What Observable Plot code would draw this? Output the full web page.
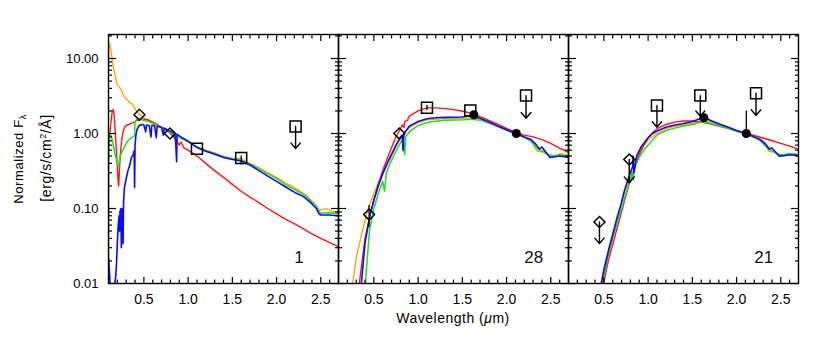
<!DOCTYPE html>
<html><head><meta charset="utf-8">
<script src="https://cdn.jsdelivr.net/npm/d3@7"></script>
<script src="https://cdn.jsdelivr.net/npm/@observablehq/plot@0.6"></script>
<style>
body{margin:0;background:#fff;}
#chart{position:relative;width:830px;height:353px;font-family:"Liberation Sans",Arial,sans-serif;}
#chart svg{position:absolute;top:0;overflow:visible;}
</style></head><body><div id="chart"></div>
<script>
// ---- tick values ----
const panelIds = ["1", "28", "21"];
const xMajorTicks = [0.5, 1.0, 1.5, 2.0, 2.5];
const xMinorTicks = [0.2,0.3,0.4,0.6,0.7,0.8,0.9,1.1,1.2,1.3,1.4,1.6,1.7,1.8,1.9,2.1,2.2,2.3,2.4,2.6];
const yMajorTicks = [0.01, 0.1, 1, 10];
const yMinorTicks = [0.02,0.03,0.04,0.05,0.06,0.07,0.08,0.09,0.2,0.3,0.4,0.5,0.6,0.7,0.8,0.9,2,3,4,5,6,7,8,9,20];
const xDomain = [0.1, 2.7];
const yDomain = [0.01, 20.9];

// ---- panel 1 spectra [wavelength (um), normalized flux] ----
const p1Orange = [[0.1,8.5],[0.105,14],[0.113,16],[0.125,13.5],[0.14,10],[0.155,7.5],[0.17,6.5],[0.185,5.2],[0.2,4.4],[0.215,4.3],[0.226,4.1],[0.24,3.9],[0.255,3.6],[0.27,3.2],[0.3,2.9],[0.34,2.6],[0.37,2.45],[0.4,2.15],[0.42,1.95],[0.45,1.8],[0.5,1.62],[0.6,1.4],[0.7,1.19],[0.8,1.03],[0.9,0.89],[1.0,0.77],[1.1,0.67],[1.2,0.6],[1.3,0.55],[1.4,0.5],[1.5,0.47],[1.6,0.46],[1.7,0.4],[1.8,0.35],[1.9,0.3],[2.0,0.26],[2.1,0.22],[2.2,0.19],[2.3,0.16],[2.35,0.145],[2.4,0.125],[2.45,0.108],[2.48,0.095],[2.53,0.098],[2.57,0.099],[2.62,0.092],[2.7,0.088]];
const p1Red = [[0.1,0.7],[0.11,0.85],[0.125,1.3],[0.14,1.9],[0.155,2.1],[0.165,1.7],[0.18,0.9],[0.195,0.45],[0.21,0.22],[0.215,0.2],[0.225,0.35],[0.24,0.65],[0.26,1.0],[0.28,1.2],[0.3,1.28],[0.34,1.33],[0.38,1.4],[0.42,1.5],[0.5,1.55],[0.55,1.52],[0.6,1.42],[0.7,1.22],[0.74,1.16],[0.8,1.0],[0.85,0.86],[0.87,0.8],[0.9,0.7],[0.92,0.77],[0.95,0.65],[1.0,0.6],[1.1,0.5],[1.2,0.4],[1.3,0.32],[1.4,0.26],[1.5,0.21],[1.6,0.17],[1.7,0.142],[1.8,0.12],[1.9,0.1],[2.0,0.085],[2.1,0.072],[2.2,0.063],[2.3,0.054],[2.4,0.046],[2.5,0.04],[2.6,0.035],[2.7,0.031]];
const p1Green = [[0.1,0.012],[0.102,0.3],[0.105,0.85],[0.12,0.92],[0.13,0.94],[0.15,0.75],[0.17,0.55],[0.19,0.45],[0.205,0.38],[0.215,0.36],[0.23,0.5],[0.26,0.6],[0.29,0.7],[0.32,0.8],[0.35,0.86],[0.38,0.9],[0.395,0.95],[0.4,1.45],[0.42,1.55],[0.45,1.6],[0.5,1.5],[0.55,1.45],[0.6,1.36],[0.7,1.2],[0.8,1.02],[0.9,0.89],[1.0,0.78],[1.1,0.66],[1.2,0.59],[1.3,0.54],[1.4,0.49],[1.5,0.46],[1.6,0.44],[1.7,0.39],[1.8,0.34],[1.9,0.29],[2.0,0.25],[2.1,0.21],[2.2,0.18],[2.3,0.155],[2.35,0.14],[2.4,0.122],[2.45,0.106],[2.48,0.092],[2.5,0.087],[2.6,0.088],[2.7,0.085]];
const p1Blue = [[0.1,0.022],[0.11,0.015],[0.12,0.009],[0.14,0.006],[0.16,0.008],[0.18,0.012],[0.19,0.018],[0.2,0.035],[0.21,0.06],[0.22,0.08],[0.225,0.05],[0.23,0.09],[0.24,0.1],[0.245,0.03],[0.25,0.09],[0.26,0.1],[0.265,0.034],[0.27,0.12],[0.28,0.19],[0.3,0.25],[0.32,0.32],[0.34,0.38],[0.36,0.48],[0.38,0.52],[0.39,0.59],[0.395,0.19],[0.4,0.7],[0.41,0.95],[0.42,1.1],[0.44,1.25],[0.47,1.32],[0.5,1.3],[0.52,1.05],[0.53,1.3],[0.56,1.28],[0.58,0.9],[0.59,1.28],[0.62,1.28],[0.64,0.88],[0.65,1.25],[0.7,1.2],[0.72,0.95],[0.73,1.18],[0.78,1.1],[0.81,1.06],[0.85,1.0],[0.86,0.75],[0.87,0.42],[0.875,0.98],[0.9,0.93],[1.0,0.79],[1.1,0.65],[1.2,0.58],[1.3,0.53],[1.4,0.48],[1.5,0.45],[1.6,0.43],[1.7,0.38],[1.8,0.32],[1.9,0.27],[2.0,0.23],[2.1,0.195],[2.2,0.165],[2.3,0.145],[2.35,0.13],[2.4,0.115],[2.45,0.1],[2.48,0.085],[2.5,0.082],[2.6,0.082],[2.7,0.08]];

// ---- panel 28 spectra ----
const p2Orange = [[0.255,0.009],[0.3,0.022],[0.37,0.05],[0.415,0.083],[0.45,0.11],[0.5,0.16],[0.55,0.22],[0.6,0.3],[0.65,0.38],[0.7,0.5],[0.75,0.66],[0.8,0.85],[0.85,1.02],[0.9,1.2],[1.0,1.4],[1.1,1.52],[1.3,1.58],[1.52,1.6],[1.6,1.63],[1.71,1.56],[1.8,1.43],[1.89,1.28],[2.0,1.13],[2.11,1.0],[2.2,0.9],[2.27,0.81],[2.3,0.72],[2.33,0.62],[2.35,0.58],[2.4,0.57],[2.46,0.53],[2.5,0.48],[2.55,0.5],[2.61,0.54],[2.7,0.51]];
const p2Red = [[0.33,0.009],[0.4,0.04],[0.45,0.075],[0.5,0.13],[0.55,0.21],[0.6,0.32],[0.65,0.46],[0.7,0.65],[0.75,0.9],[0.8,1.15],[0.82,1.3],[0.84,1.2],[0.85,1.45],[0.88,1.5],[0.9,1.7],[1.0,2.0],[1.1,2.2],[1.2,2.2],[1.3,2.15],[1.4,2.08],[1.5,1.98],[1.6,1.86],[1.7,1.68],[1.8,1.5],[1.9,1.33],[2.0,1.17],[2.11,1.02],[2.2,0.95],[2.3,0.9],[2.4,0.83],[2.5,0.74],[2.6,0.64],[2.7,0.56]];
const p2Green = [[0.4,0.009],[0.45,0.05],[0.5,0.1],[0.55,0.16],[0.6,0.23],[0.62,0.17],[0.64,0.29],[0.65,0.32],[0.7,0.44],[0.75,0.58],[0.8,0.75],[0.83,0.85],[0.85,0.52],[0.86,0.9],[0.9,1.05],[1.0,1.28],[1.13,1.42],[1.3,1.5],[1.52,1.52],[1.6,1.55],[1.71,1.5],[1.8,1.38],[1.9,1.24],[2.0,1.1],[2.11,0.98],[2.2,0.88],[2.27,0.8],[2.33,0.66],[2.37,0.6],[2.42,0.58],[2.48,0.52],[2.53,0.5],[2.6,0.52],[2.7,0.5]];
const p2Blue = [[0.355,0.009],[0.4,0.035],[0.46,0.085],[0.5,0.13],[0.55,0.2],[0.6,0.29],[0.65,0.4],[0.7,0.53],[0.75,0.7],[0.8,0.9],[0.82,0.95],[0.83,0.59],[0.84,1.0],[0.9,1.25],[1.0,1.45],[1.1,1.57],[1.2,1.62],[1.3,1.64],[1.5,1.66],[1.6,1.75],[1.7,1.6],[1.8,1.42],[1.9,1.26],[2.0,1.12],[2.11,1.0],[2.2,0.9],[2.27,0.84],[2.33,0.72],[2.37,0.62],[2.4,0.66],[2.45,0.55],[2.49,0.48],[2.55,0.49],[2.6,0.5],[2.7,0.48]];

// ---- panel 21 spectra ----
const p3Orange = [[0.455,0.009],[0.5,0.016],[0.55,0.027],[0.6,0.045],[0.65,0.075],[0.7,0.12],[0.75,0.19],[0.8,0.3],[0.85,0.42],[0.9,0.56],[1.0,0.82],[1.1,1.0],[1.2,1.15],[1.3,1.25],[1.4,1.3],[1.5,1.37],[1.6,1.48],[1.7,1.45],[1.8,1.32],[1.9,1.2],[2.0,1.09],[2.11,0.99],[2.2,0.89],[2.27,0.8],[2.33,0.66],[2.37,0.58],[2.42,0.56],[2.48,0.52],[2.53,0.5],[2.6,0.54],[2.7,0.53]];
const p3Red = [[0.49,0.009],[0.55,0.02],[0.6,0.033],[0.65,0.055],[0.7,0.09],[0.75,0.15],[0.8,0.24],[0.85,0.36],[0.9,0.52],[0.95,0.7],[1.0,0.88],[1.05,1.02],[1.1,1.15],[1.2,1.32],[1.3,1.42],[1.4,1.47],[1.5,1.47],[1.6,1.42],[1.7,1.35],[1.8,1.26],[1.9,1.17],[2.0,1.08],[2.11,1.0],[2.2,0.94],[2.3,0.87],[2.4,0.8],[2.5,0.74],[2.6,0.68],[2.7,0.62]];
const p3Green = [[0.48,0.009],[0.55,0.024],[0.6,0.04],[0.65,0.065],[0.7,0.1],[0.75,0.16],[0.8,0.25],[0.82,0.3],[0.83,0.24],[0.85,0.36],[0.9,0.48],[0.95,0.6],[1.05,0.82],[1.1,0.95],[1.21,1.1],[1.3,1.18],[1.39,1.25],[1.5,1.32],[1.6,1.42],[1.7,1.38],[1.8,1.28],[1.9,1.17],[2.0,1.07],[2.11,0.98],[2.2,0.88],[2.27,0.8],[2.33,0.68],[2.37,0.6],[2.42,0.58],[2.48,0.52],[2.55,0.53],[2.6,0.54],[2.7,0.52]];
const p3Blue = [[0.465,0.009],[0.5,0.015],[0.56,0.03],[0.6,0.045],[0.64,0.069],[0.69,0.11],[0.73,0.17],[0.78,0.26],[0.825,0.36],[0.83,0.5],[0.84,0.3],[0.87,0.5],[0.92,0.66],[1.0,0.88],[1.05,1.0],[1.1,1.08],[1.2,1.21],[1.3,1.3],[1.39,1.35],[1.5,1.45],[1.6,1.6],[1.65,1.62],[1.7,1.5],[1.8,1.35],[1.9,1.22],[2.0,1.1],[2.11,1.0],[2.2,0.9],[2.27,0.83],[2.33,0.72],[2.37,0.62],[2.4,0.64],[2.45,0.55],[2.48,0.5],[2.55,0.51],[2.6,0.52],[2.7,0.51]];

// ---- photometry [panel, wavelength, flux] ----
const squares = [["1",1.10,0.625],["1",1.60,0.47],["1",2.215,1.24],["28",1.10,2.2],["28",1.59,2.03],["28",2.22,3.2],["21",1.10,2.36],["21",1.59,3.2],["21",2.22,3.45]];
const diamonds = [["1",0.45,1.78],["1",0.795,1.0],["28",0.446,0.083],["28",0.787,1.0],["21",0.45,0.066],["21",0.787,0.45]];
const circles = [["28",1.63,1.78],["28",2.11,1.0],["21",1.63,1.62],["21",2.11,1.0]];
// upper limits [panel, wavelength, flux, arrow tip flux]
const upperLimits = [["1",2.215,1.24,0.63],["28",2.22,3.2,1.6],["21",1.10,2.36,1.21],["21",1.59,3.2,1.7],["21",2.22,3.45,1.74],["21",0.787,0.45,0.22],["21",0.45,0.066,0.034]];
// error bars [panel, wavelength, low, high]
const errorBars = [["1",1.60,0.38,0.5],["28",0.446,0.056,0.11],["28",1.10,2.03,2.36],["21",2.11,1.0,2.0]];

const spectra = [[p1Orange,p1Red,p1Green,p1Blue],[p2Orange,p2Red,p2Green,p2Blue],[p3Orange,p3Red,p3Green,p3Blue]];
const seriesColors = ["#ffa500","#ff1414","#22dd22","#0a0aff"];
const seriesWidths = [1.4, 1.4, 1.5, 1.6];

const chart = document.getElementById("chart");
const FONT = '"Liberation Sans", Arial, sans-serif';
const diamondSymbol = {draw(ctx, size){const r = Math.sqrt(size/Math.PI); ctx.moveTo(0,-r); ctx.lineTo(r,0); ctx.lineTo(0,r); ctx.lineTo(-r,0); ctx.closePath();}};
const squareSymbol = {draw(ctx, size){const h = Math.sqrt(size/Math.PI); ctx.rect(-h,-h,2*h,2*h);}};

function drawPanel(k, left, width, mL, mR, showYLabels) {
  const id = panelIds[k];
  const sel = arr => arr.filter(d => d[0] === id);
  const marks = [];
  spectra[k].forEach((s, j) => marks.push(Plot.line(s, {x: d => d[0], y: d => d[1], stroke: seriesColors[j], strokeWidth: seriesWidths[j], clip: true})));
  marks.push(Plot.ruleX(sel(errorBars), {x: d => d[1], y1: d => d[2], y2: d => d[3], stroke: "#000", strokeWidth: 1.3}));
  marks.push(Plot.arrow(sel(upperLimits), {x: d => d[1], y1: d => d[2], y2: d => d[3], stroke: "#000", strokeWidth: 1.4, headLength: 9, headAngle: 80}));
  marks.push(Plot.dot(sel(squares), {x: d => d[1], y: d => d[2], symbol: squareSymbol, r: 5.5, stroke: "#000", strokeWidth: 1.5, fill: "none"}));
  marks.push(Plot.dot(sel(diamonds), {x: d => d[1], y: d => d[2], symbol: diamondSymbol, r: 5.5, stroke: "#000", strokeWidth: 1.5, fill: "none"}));
  marks.push(Plot.dot(sel(circles), {x: d => d[1], y: d => d[2], r: 4.5, fill: "#000", stroke: "none"}));
  marks.push(Plot.text([id], {x: () => 2.2, frameAnchor: "bottom", dy: -21, textAnchor: "start", lineAnchor: "bottom", fontSize: 17, fill: "#111", fontFamily: FONT}));
  marks.push(Plot.axisX(xMajorTicks, {anchor: "bottom", tickSize: 0, tickPadding: 11, tickFormat: d => d.toFixed(1), fontSize: 14, label: null, fontFamily: FONT}));
  for (const a of ["bottom", "top"]) {
    marks.push(Plot.axisX(xMajorTicks, {anchor: a, tickSize: -6, tickFormat: () => "", label: null, strokeWidth: 1.2}));
    marks.push(Plot.axisX(xMinorTicks, {anchor: a, tickSize: -3.5, tickFormat: () => "", label: null, strokeWidth: 1.2}));
  }
  for (const a of ["left", "right"]) {
    marks.push(Plot.axisY(yMajorTicks, {anchor: a, tickSize: -8, tickFormat: () => "", label: null, strokeWidth: 1.2}));
    marks.push(Plot.axisY(yMinorTicks, {anchor: a, tickSize: -4, tickFormat: () => "", label: null, strokeWidth: 1.2}));
  }
  if (showYLabels) marks.push(Plot.axisY(yMajorTicks, {anchor: "left", tickSize: 0, tickPadding: 10, tickFormat: d => d.toFixed(2), fontSize: 13, label: null, fontFamily: FONT}));
  marks.push(Plot.frame({stroke: "#000", strokeWidth: 1.4}));
  const svg = Plot.plot({
    width, height: 353, marginLeft: mL, marginRight: mR, marginTop: 34, marginBottom: 70,
    x: {domain: xDomain}, y: {type: "log", domain: yDomain},
    style: {background: "transparent", fontFamily: FONT, overflow: "visible", color: "#000"},
    marks
  });
  svg.style.left = left + "px";
  chart.appendChild(svg);
}

drawPanel(0, 0, 340, 108, 2, true);
drawPanel(1, 336, 234, 2, 2, false);
drawPanel(2, 566, 234, 2, 2, false);

// axis titles
const ov = d3.select(chart).append("svg").attr("width", 830).attr("height", 353).style("left", "0px").style("pointer-events", "none");
const t1 = ov.append("text").attr("transform", "translate(23,159) rotate(-90)").attr("text-anchor", "middle").attr("font-family", FONT).attr("font-size", 13).attr("letter-spacing", 0.6);
t1.append("tspan").text("Normalized F");
t1.append("tspan").attr("font-size", 9).attr("dy", 3).text("λ");
const t2 = ov.append("text").attr("transform", "translate(51,158) rotate(-90)").attr("text-anchor", "middle").attr("font-family", FONT).attr("font-size", 14).attr("letter-spacing", 0.6);
t2.append("tspan").text("[erg/s/cm");
t2.append("tspan").attr("font-size", 9).attr("dy", -5).text("2");
t2.append("tspan").attr("dy", 5).text("/Å]");
const t3 = ov.append("text").attr("x", 453).attr("y", 323).attr("text-anchor", "middle").attr("font-family", FONT).attr("font-size", 14).attr("letter-spacing", 0.5);
t3.append("tspan").text("Wavelength (");
t3.append("tspan").attr("font-style", "italic").text("μ");
t3.append("tspan").text("m)");
</script></body></html>
